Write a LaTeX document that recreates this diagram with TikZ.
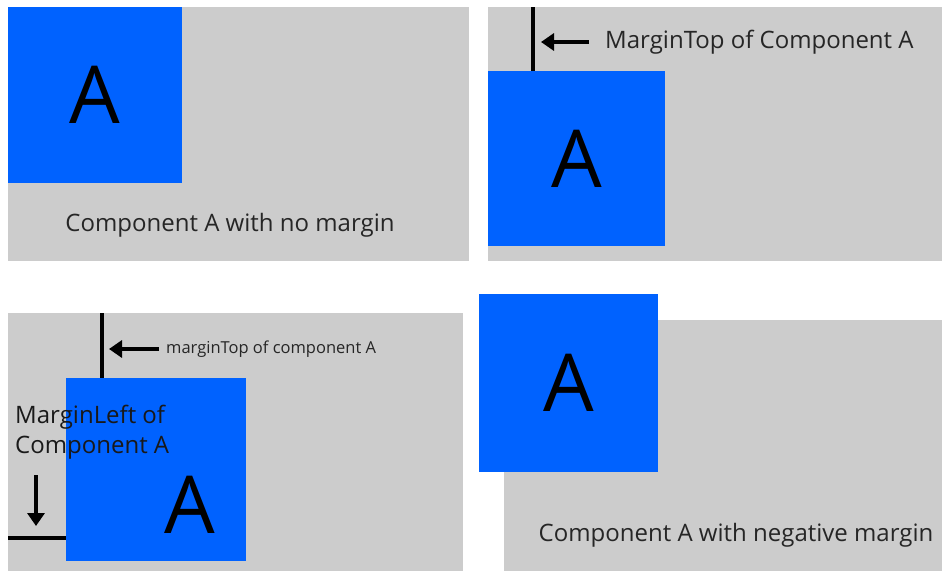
\documentclass[tikz,border=0pt]{standalone}
\usepackage{fontspec}
\setmainfont{Open Sans}
\usetikzlibrary{arrows.meta}
\definecolor{panelgray}{RGB}{204,204,204}
\definecolor{compblue}{RGB}{0,98,255}
\begin{document}
\begin{tikzpicture}[x=1pt,y=-1pt,
  panel/.style={fill=panelgray,draw=none},
  comp/.style={fill=compblue,draw=none,anchor=north west,inner sep=0pt,
    font=\fontsize{80}{80}\selectfont},
  letter/.style={inner sep=0pt,font=\fontsize{80}{80}\selectfont},
  caption/.style={inner sep=0pt,text=black!85,font=\fontsize{24}{28}\selectfont},
  note/.style={inner sep=0pt,text=black!85,font=\fontsize{16.5}{20}\selectfont},
  bignote/.style={inner sep=0pt,text=black!90,font=\fontsize{24}{30}\selectfont,align=left},
  guide/.style={line width=3.5pt,draw=black},
  pointer/.style={line width=4.5pt,draw=black,-{Triangle[length=13pt,width=17pt]}}]
\useasboundingbox (0,0) rectangle (942,571);

% panel 1: no margin
\fill[panel] (8,7) rectangle (469,261);
\node[comp,minimum width=174pt,minimum height=176pt] (a1) at (8,7) {A};
\node[caption] (c1) at (230,225) {Component A with no margin};

% panel 2: margin on top
\fill[panel] (488,7) rectangle (942,261);
\node[comp,minimum width=177pt,minimum height=175pt] (a2) at (488,71) {A};
\coordinate (t2top) at (533,7);
\coordinate (t2bot) at (533,71);
\draw[guide] (t2top) -- (t2bot);
\coordinate (p2s) at (589,42);
\coordinate (p2e) at (541,42);
\draw[pointer] (p2s) -- (p2e);
\node[caption,anchor=west] (c2) at (605,42) {MarginTop of Component A};

% panel 3: margin on top and left
\fill[panel] (8,313) rectangle (463,571);
\node[comp,minimum width=180pt,minimum height=183pt] (a3) at (66,378) {};
\node[letter] (l3) at (190,505) {A};
\coordinate (t3top) at (102,313);
\coordinate (t3bot) at (102,378);
\draw[guide] (t3top) -- (t3bot);
\coordinate (p3s) at (159,349);
\coordinate (p3e) at (109,349);
\draw[pointer] (p3s) -- (p3e);
\node[note,anchor=west] (c3) at (166,349) {marginTop of component A};
\node[bignote,anchor=north west] (c3b) at (15,405) {MarginLeft of\\Component A};
\coordinate (d3s) at (36,475);
\coordinate (d3e) at (36,526);
\draw[pointer] (d3s) -- (d3e);
\coordinate (l3left) at (8,538);
\coordinate (l3right) at (66,538);
\draw[guide] (l3left) -- (l3right);

% panel 4: negative margin
\fill[panel] (504,320) rectangle (942,571);
\node[comp,minimum width=179pt,minimum height=178pt] (a4) at (479,294) {A};
\node[caption] (c4) at (736,535) {Component A with negative margin};
\end{tikzpicture}
\end{document}
